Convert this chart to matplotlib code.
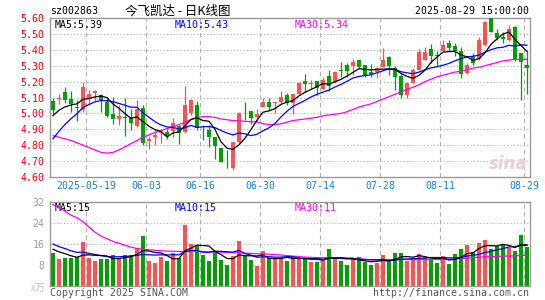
import pandas as pd
import matplotlib.pyplot as plt
from matplotlib.patches import Rectangle

# =========================
# DATOS
# =========================

CODIGO = "sz002863"
TITULO = "今飞凯达 - 日K线图"
FECHA = "2025-08-29 15:00:00"

apertura = [5.08, 5.09, 5.135, 5.09, 5.04, 5.02, 5.10, 5.13, 5.115, 5.07,
            4.995, 4.965, 4.975, 4.97, 4.92, 5.035, 4.825, 4.85, 4.875, 4.88,
            4.89, 4.92, 4.886, 5.00, 5.053, 4.86, 4.896, 4.85, 4.785, 4.71,
            4.655, 4.817, 5.005, 5.015, 4.975, 5.043, 5.07, 5.065, 5.07, 5.115,
            5.065, 5.122, 5.205, 5.188, 5.205, 5.155, 5.235, 5.195, 5.275, 5.305,
            5.295, 5.335, 5.305, 5.26, 5.26, 5.292, 5.356, 5.285, 5.235, 5.115,
            5.192, 5.276, 5.337, 5.405, 5.366, 5.393, 5.443, 5.425, 5.39, 5.255,
            5.357, 5.341, 5.431, 5.598, 5.508, 5.483, 5.462, 5.546, 5.378, 5.305]
maximo = [5.10, 5.12, 5.165, 5.14, 5.085, 5.195, 5.15, 5.15, 5.12, 5.095,
          5.105, 5.05, 5.095, 5.03, 5.085, 5.055, 4.86, 4.90, 4.90, 4.90,
          4.97, 4.93, 5.17, 5.09, 5.075, 4.93, 4.93, 4.85, 4.785, 4.77,
          4.817, 5.01, 5.07, 5.015, 5.03, 5.10, 5.10, 5.07, 5.14, 5.13,
          5.12, 5.20, 5.25, 5.21, 5.205, 5.23, 5.275, 5.265, 5.325, 5.32,
          5.345, 5.335, 5.305, 5.31, 5.29, 5.41, 5.36, 5.30, 5.25, 5.20,
          5.284, 5.405, 5.42, 5.435, 5.395, 5.46, 5.46, 5.44, 5.415, 5.32,
          5.38, 5.48, 5.58, 5.60, 5.53, 5.514, 5.556, 5.55, 5.38, 5.39]
minimo = [4.99, 5.06, 5.065, 5.01, 4.95, 5.01, 5.05, 5.08, 5.01, 4.975,
          4.935, 4.93, 4.86, 4.895, 4.915, 4.80, 4.775, 4.80, 4.815, 4.84,
          4.85, 4.81, 4.875, 4.99, 4.895, 4.83, 4.79, 4.716, 4.697, 4.655,
          4.645, 4.815, 4.96, 4.935, 4.95, 5.04, 5.02, 5.00, 5.065, 5.055,
          4.995, 5.115, 5.137, 5.155, 5.115, 5.155, 5.14, 5.19, 5.23, 5.23,
          5.24, 5.285, 5.23, 5.23, 5.22, 5.29, 5.24, 5.15, 5.095, 5.10,
          5.19, 5.27, 5.335, 5.32, 5.30, 5.387, 5.39, 5.36, 5.22, 5.248,
          5.305, 5.337, 5.425, 5.51, 5.46, 5.44, 5.457, 5.33, 5.085, 5.12]
cierre = [5.02, 5.10, 5.085, 5.06, 5.035, 5.165, 5.12, 5.14, 5.085, 4.985,
          4.965, 4.985, 4.97, 4.94, 5.03, 4.815, 4.84, 4.865, 4.88, 4.86,
          4.94, 4.875, 5.053, 5.085, 4.907, 4.855, 4.854, 4.795, 4.697, 4.705,
          4.817, 5.00, 5.00, 4.97, 4.997, 5.07, 5.043, 5.07, 5.105, 5.065,
          5.12, 5.19, 5.185, 5.19, 5.16, 5.21, 5.175, 5.26, 5.265, 5.265,
          5.325, 5.29, 5.24, 5.245, 5.283, 5.335, 5.295, 5.228, 5.115, 5.192,
          5.274, 5.389, 5.389, 5.36, 5.358, 5.428, 5.41, 5.393, 5.245, 5.305,
          5.315, 5.462, 5.577, 5.515, 5.473, 5.467, 5.529, 5.341, 5.326, 5.285]
# cierres anteriores al primer día visible (para MA5 / MA10)
cierre_previo = [4.62, 4.66, 4.70, 4.72, 4.77, 4.93, 4.98, 5.00, 5.00]

volumen = [12.5, 10.1, 10.5, 10.5, 11.0, 16.8, 10.5, 9.7, 10.1, 10.1,
           11.7, 10.6, 11.7, 11.7, 14.4, 19.2, 9.7, 8.6, 11.0, 9.5,
           12.7, 10.5, 23.4, 16.0, 15.3, 11.9, 9.6, 13.0, 10.0, 8.0,
           11.3, 17.0, 11.3, 10.0, 7.5, 13.4, 10.6, 10.5, 10.5, 9.7,
           10.9, 10.9, 10.5, 9.2, 9.2, 9.9, 14.1, 10.9, 9.7, 8.0,
           10.1, 10.9, 9.2, 8.0, 8.9, 11.8, 9.2, 12.7, 12.7, 9.7,
           10.5, 12.2, 10.9, 9.9, 8.9, 11.4, 8.4, 12.2, 14.0, 15.6,
           13.1, 16.5, 17.5, 14.1, 15.2, 16.0, 14.5, 13.5, 19.3, 15.0]
volumen_previo = [20, 18, 19, 17, 16, 15, 14, 14.5, 14]

ma30_precio = [4.86, 4.85, 4.84, 4.83, 4.815, 4.80, 4.785, 4.77, 4.755, 4.75,
               4.755, 4.77, 4.79, 4.81, 4.83, 4.85, 4.865, 4.88, 4.89, 4.905,
               4.915, 4.93, 4.945, 4.96, 4.975, 4.98, 4.98, 4.975, 4.965, 4.96,
               4.955, 4.953, 4.95, 4.948, 4.946, 4.935, 4.93, 4.93, 4.935, 4.945,
               4.955, 4.96, 4.965, 4.97, 4.975, 4.985, 4.99, 4.995, 5.00, 5.01,
               5.025, 5.04, 5.05, 5.06, 5.075, 5.09, 5.105, 5.12, 5.135, 5.15,
               5.165, 5.18, 5.20, 5.215, 5.23, 5.24, 5.25, 5.26, 5.265, 5.275,
               5.285, 5.29, 5.30, 5.31, 5.32, 5.33, 5.335, 5.34, 5.34, 5.34]
ma30_volumen = [31, 30, 28.5, 27, 26, 24.5, 22.5, 20.5, 19, 18,
                17, 16.3, 15.5, 14.8, 14.3, 14, 13.8, 13.6, 13.4, 13.3,
                13.2, 13.1, 13.1, 13.2, 13.2, 13.1, 13, 13, 12.9, 12.8,
                12.7, 12.6, 12.5, 12.4, 12.3, 12.2, 12.1, 12, 11.8, 11.6,
                11.4, 11.2, 11, 10.9, 10.8, 10.8, 10.8, 10.8, 10.7, 10.6,
                10.5, 10.3, 10.1, 10, 9.9, 10, 10, 10.1, 10.1, 10.1,
                10.1, 10.1, 10.1, 10.1, 10.1, 10.1, 10.2, 10.3, 10.4, 10.6,
                10.8, 11, 11.1, 11.2, 11.3, 11.4, 11.4, 11.5, 11.6, 11.7]

# etiquetas de fecha: índice de la vela -> texto
fechas_idx = [6, 16, 25, 35, 45, 55, 65, 79]
fechas_txt = ["2025-05-19", "06-03", "06-16", "06-30", "07-14", "07-28", "08-11", "08-29"]

precio_ticks = [4.60, 4.70, 4.80, 4.90, 5.00, 5.10, 5.20, 5.30, 5.40, 5.50, 5.60]
vol_ticks = [8, 16, 24, 32]

# =========================
# ESTILO
# =========================

ROJO = "#ff5252"
VERDE = "#009e00"
AZUL_FECHA = "#1a7fcf"
GRIS = "#9a9a9a"
MONO = "DejaVu Sans Mono"
CJK = ["Noto Sans CJK SC", "DejaVu Sans"]
TAM = 7.1

# =========================
# CÁLCULOS
# =========================

n = len(cierre)
x = list(range(n))

serie_c = pd.Series(cierre_previo + cierre)
ma5 = serie_c.rolling(5).mean().iloc[len(cierre_previo):].values
ma10 = serie_c.rolling(10).mean().iloc[len(cierre_previo):].values

serie_v = pd.Series(volumen_previo + volumen)
vma5 = serie_v.rolling(5).mean().iloc[len(volumen_previo):].values
vma10 = serie_v.rolling(10).mean().iloc[len(volumen_previo):].values

colores = [ROJO if c >= o else VERDE for o, c in zip(apertura, cierre)]

# =========================
# FIGURA
# =========================

fig = plt.figure(figsize=(5.45, 3.0), dpi=100)
ax = fig.add_axes([50 / 545, 1 - 177 / 300, 480 / 545, 159 / 300])
axv = fig.add_axes([50 / 545, 1 - 286 / 300, 480 / 545, 84 / 300])

for a in (ax, axv):
    a.set_xlim(-0.5, n - 0.5)
    for s in a.spines.values():
        s.set_color(GRIS)
        s.set_linewidth(1)
    a.tick_params(length=0)
    a.set_xticks([])
    for i in fechas_idx:
        a.axvline(i - 0.5, color="#b0b0b0", lw=0.8, ls=(0, (4, 3)), zorder=0)

# --- panel de precios ---
ax.set_ylim(4.60, 5.60)
for p in precio_ticks[1:-1]:
    ax.axhline(p, color="#b0b0b0", lw=0.8, ls=(0, (1, 2)), zorder=0)

ancho = 0.78
for i in x:
    o, h, l, c = apertura[i], maximo[i], minimo[i], cierre[i]
    col = colores[i]
    ax.vlines(i, l, h, color=col, lw=0.9, zorder=2)
    abajo = min(o, c)
    alto = max(abs(c - o), 0.004)
    ax.add_patch(Rectangle((i - ancho / 2, abajo), ancho, alto,
                           facecolor=col, edgecolor="none", zorder=3))

ax.plot(x, ma30_precio, color="#ff00ff", lw=0.9, zorder=4)
ax.plot(x, ma10, color="#0000ff", lw=0.9, zorder=4)
ax.plot(x, ma5, color="black", lw=0.9, zorder=4)

ax.set_yticks(precio_ticks)
ax.set_yticklabels([f"{p:.2f}" for p in precio_ticks], color="red",
                   fontfamily=MONO, fontsize=TAM)
ax.tick_params(axis="y", pad=4)

ax.text(0.01, 0.985, f"MA5:{ma5[-1]:.2f}", transform=ax.transAxes, va="top",
        ha="left", fontfamily=MONO, fontsize=TAM, color="black")
ax.text(0.26, 0.985, f"MA10:{ma10[-1]:.2f}", transform=ax.transAxes, va="top",
        ha="left", fontfamily=MONO, fontsize=TAM, color="#0000ff")
ax.text(0.51, 0.985, f"MA30:{ma30_precio[-1]:.2f}", transform=ax.transAxes, va="top",
        ha="left", fontfamily=MONO, fontsize=TAM, color="#ff00ff")

# marca de agua
ax.text(0.955, 0.08, "sina", transform=ax.transAxes, ha="center", va="center",
        fontsize=12, color="#ead0d0", style="italic", fontweight="bold", zorder=1)

# etiquetas de fecha
for i, t in zip(fechas_idx, fechas_txt):
    ax.text(i - 0.5, -0.055, t, transform=ax.get_xaxis_transform(), ha="center",
            va="center", fontfamily=MONO, fontsize=TAM, color=AZUL_FECHA)

# --- panel de volumen ---
axv.set_ylim(0, 32)
for v in vol_ticks[:-1]:
    axv.axhline(v, color="#b0b0b0", lw=0.8, ls=(0, (1, 2)), zorder=0)
axv.bar(x, volumen, width=ancho, color=colores, zorder=2)
axv.plot(x, ma30_volumen, color="#ff00ff", lw=0.9, zorder=4)
axv.plot(x, vma10, color="#0000ff", lw=0.9, zorder=4)
axv.plot(x, vma5, color="black", lw=0.9, zorder=4)

axv.set_yticks(vol_ticks)
axv.set_yticklabels([str(v) for v in vol_ticks], color=GRIS,
                    fontfamily=MONO, fontsize=TAM)
axv.tick_params(axis="y", pad=4)

axv.text(0.01, 0.985, f"MA5:{int(vma5[-1])}", transform=axv.transAxes, va="top",
         ha="left", fontfamily=MONO, fontsize=TAM, color="black")
axv.text(0.26, 0.985, f"MA10:{int(vma10[-1])}", transform=axv.transAxes, va="top",
         ha="left", fontfamily=MONO, fontsize=TAM, color="#0000ff")
axv.text(0.51, 0.985, f"MA30:{int(ma30_volumen[-1])}", transform=axv.transAxes, va="top",
         ha="left", fontfamily=MONO, fontsize=TAM, color="#ff00ff")

# =========================
# TEXTOS DE CABECERA Y PIE
# =========================

fig.text(50 / 545, 1 - 11 / 300, CODIGO, ha="left", va="center",
         fontfamily=MONO, fontsize=TAM, color="black")
fig.text(178 / 545, 1 - 11 / 300, TITULO, ha="center", va="center",
         family=CJK, fontsize=9, color="black")
fig.text(529 / 545, 1 - 11 / 300, FECHA, ha="right", va="center",
         fontfamily=MONO, fontsize=TAM, color="black")

fig.text(45 / 545, 1 - 288 / 300, "x万", ha="right", va="center",
         family=CJK, fontsize=7, color="#c0c0c0")
fig.text(50 / 545, 1 - 293 / 300, "Copyright 2025 SINA.COM", ha="left", va="center",
         fontfamily=MONO, fontsize=TAM, color="#555555")
fig.text(529 / 545, 1 - 293 / 300, "http://finance.sina.com.cn", ha="right", va="center",
         fontfamily=MONO, fontsize=TAM, color="#555555")

fig.savefig("out.png", dpi=100)
